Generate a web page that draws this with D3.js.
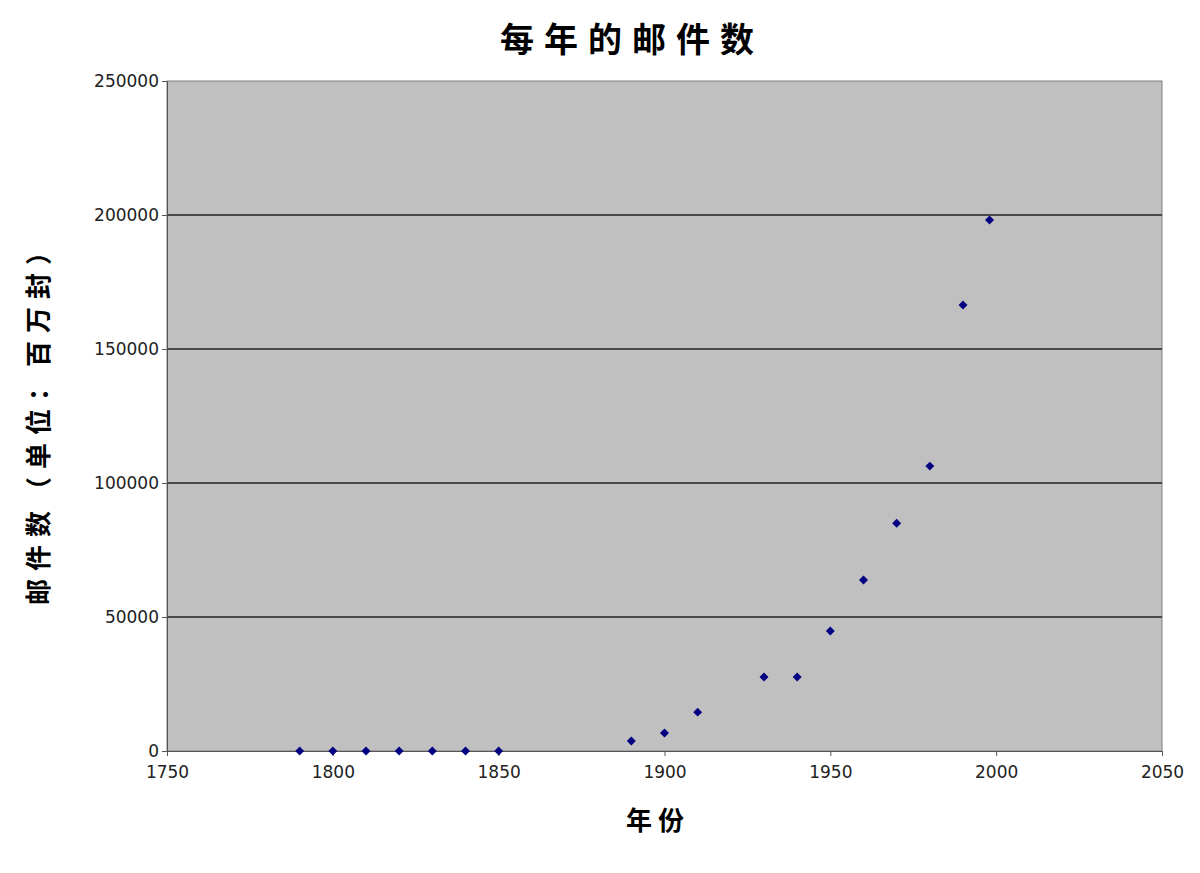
<!DOCTYPE html>
<html><head><meta charset="utf-8">
<script src="https://cdn.jsdelivr.net/npm/d3@7"></script>
<style>body{margin:0;background:#fff}</style>
</head><body>
<svg id="chart" width="1200" height="873"></svg>
<script>
const years = [1790, 1800, 1810, 1820, 1830, 1840, 1850, 1890, 1900, 1910, 1930, 1940, 1950, 1960, 1970, 1980, 1990, 1998]
const mail = [0, 0, 0, 0, 0, 0, 0, 3700, 6700, 14500, 27600, 27600, 44800, 63800, 85000, 106300, 166400, 198100]
const xTicks = [1750, 1800, 1850, 1900, 1950, 2000, 2050]
const yTicks = [0, 50000, 100000, 150000, 200000, 250000]

const svg = d3.select('#chart')
const m = { top: 81, left: 167, right: 38, bottom: 122 }
const w = 1200 - m.left - m.right, h = 873 - m.top - m.bottom
const g = svg.append('g').attr('transform', `translate(${m.left},${m.top})`)
const x = d3.scaleLinear().domain([1750, 2050]).range([0, w])
const y = d3.scaleLinear().domain([0, 250000]).range([h, 0])
const font = '"DejaVu Sans", "Noto Sans CJK SC", sans-serif'

g.append('rect').attr('width', w).attr('height', h).attr('fill', '#c0c0c0').attr('stroke', '#808080')
g.selectAll('.grid').data(yTicks.slice(1, -1)).enter().append('line')
  .attr('x1', 0).attr('x2', w).attr('y1', d => y(d)).attr('y2', d => y(d)).attr('stroke', '#222').attr('stroke-width', 1.5)

const xa = g.append('g').attr('transform', `translate(0,${h})`).call(d3.axisBottom(x).tickValues(xTicks).tickFormat(d3.format('d')).tickSize(5))
const ya = g.append('g').call(d3.axisLeft(y).tickValues(yTicks).tickFormat(d3.format('d')).tickSize(5))
;[xa, ya].forEach(a => { a.selectAll('text').attr('font-size', 17).attr('font-family', font).attr('fill', '#222')
  a.selectAll('line,path').attr('stroke', '#555') })
xa.selectAll('text').attr('dy', '1.1em')

g.selectAll('.pt').data(years).enter().append('path')
  .attr('d', d3.symbol(d3.symbolSquare, 40))
  .attr('transform', (d, i) => `translate(${x(d)},${y(mail[i])}) rotate(45)`).attr('fill', '#000080')

svg.append('text').attr('x', 632).attr('y', 52).attr('text-anchor', 'middle').attr('font-size', 34).attr('font-weight', 'bold')
  .attr('letter-spacing', 10).attr('font-family', font).text('每年的邮件数')
svg.append('text').attr('x', 658).attr('y', 830).attr('text-anchor', 'middle').attr('font-size', 26).attr('font-weight', 'bold')
  .attr('letter-spacing', 6).attr('font-family', font).text('年份')
svg.append('text').attr('transform', 'translate(48,418) rotate(-90)').attr('text-anchor', 'middle').attr('font-size', 26).attr('font-weight', 'bold')
  .attr('letter-spacing', 8).attr('font-family', font).text('邮件数（单位：百万封）')
</script>
</body></html>
